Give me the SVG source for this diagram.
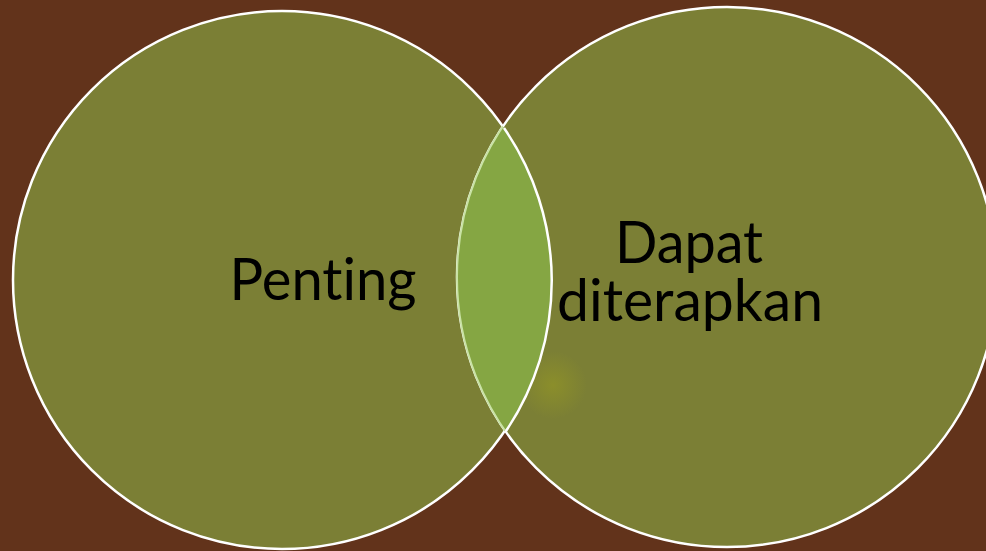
<svg xmlns="http://www.w3.org/2000/svg" width="986" height="551" viewBox="0 0 986 551">
  <style>
    .disc { fill: #7b7f35; stroke: #ffffff; stroke-width: 2.5; }
    .label { font-family: "Lato", "Open Sans", "Liberation Sans", sans-serif; font-size: 58px; fill: #000000; text-anchor: middle; font-variant-ligatures: none; }
  </style>
  <defs>
    <radialGradient id="glow" cx="0.5" cy="0.5" r="0.5">
      <stop offset="0" stop-color="#8f9228" stop-opacity="0.8"/>
      <stop offset="1" stop-color="#8f9228" stop-opacity="0"/>
    </radialGradient>
    <clipPath id="leftClip">
      <circle cx="282" cy="280" r="269"/>
    </clipPath>
  </defs>

  <rect width="986" height="551" fill="#62331b"/>

  <g id="circle-penting">
    <circle class="disc" cx="282" cy="280" r="269"/>
  </g>

  <g id="circle-dapat">
    <circle class="disc" cx="727" cy="277" r="270"/>
    <circle cx="553" cy="385" r="34" fill="url(#glow)"/>
  </g>

  <g id="overlap">
    <circle cx="727" cy="277" r="270" fill="#85a643" clip-path="url(#leftClip)"/>
    <circle cx="727" cy="277" r="270" fill="none" stroke="#c9e2a4" stroke-width="2" clip-path="url(#leftClip)"/>
    <!-- right arc of the left circle stays white across the lens -->
    <path d="M 504 128 A 269 269 0 0 1 506 431" fill="none" stroke="#ffffff" stroke-width="2.5"/>
  </g>

  <g id="labels">
    <text class="label" x="323" y="300" textLength="187" lengthAdjust="spacingAndGlyphs">Penting</text>
    <text class="label" x="689" y="263" textLength="148" lengthAdjust="spacingAndGlyphs">Dapat</text>
    <text class="label" x="690" y="321" textLength="266" lengthAdjust="spacingAndGlyphs">diterapkan</text>
  </g>
</svg>
